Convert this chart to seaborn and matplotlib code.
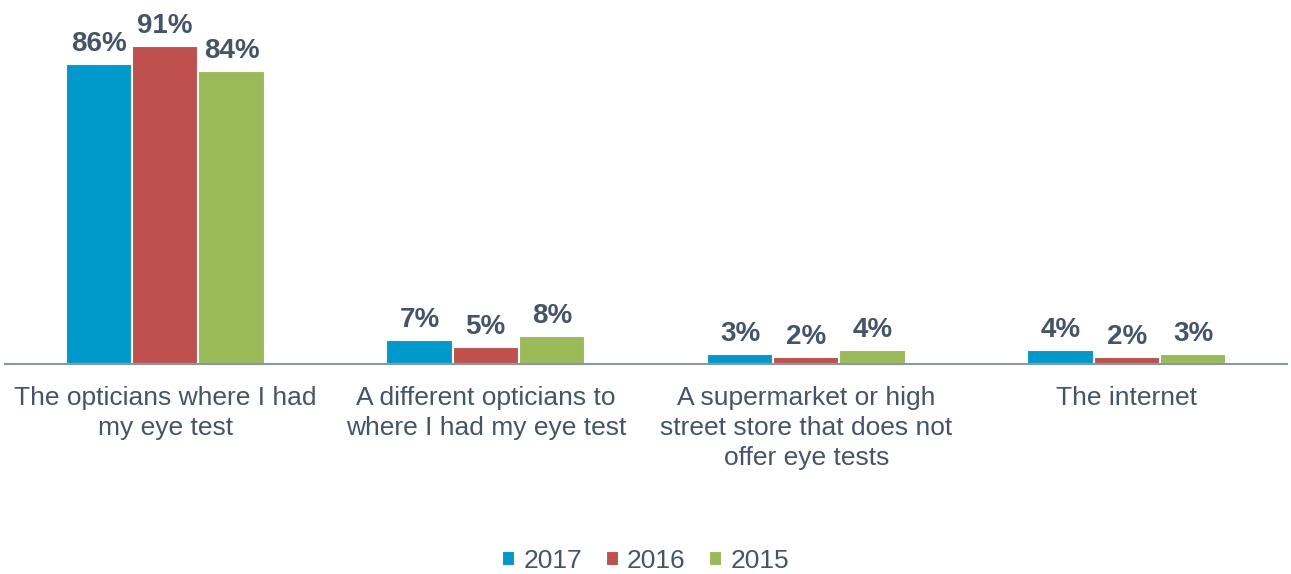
import pandas as pd
import matplotlib.pyplot as plt
import seaborn as sns

# Chart data
categories = ["The opticians where I had\nmy eye test",
              "A different opticians to\nwhere I had my eye test",
              "A supermarket or high\nstreet store that does not\noffer eye tests",
              "The internet"]
years = ["2017", "2016", "2015"]
values_2017 = [86, 7, 3, 4]
values_2016 = [91, 5, 2, 2]
values_2015 = [84, 8, 4, 3]
colors = ["#0099CC", "#C0504D", "#9BBB59"]
text_color = "#44546A"

df = pd.DataFrame({
    "category": categories * 3,
    "year": [y for y in years for _ in categories],
    "value": values_2017 + values_2016 + values_2015,
})

sns.set_style("white")
plt.rcParams["font.family"] = ["Liberation Sans", "DejaVu Sans"]

fig = plt.figure(figsize=(12.91, 5.74), dpi=100)
ax = fig.add_axes([5 / 1291, 1 - 364 / 574, 1282 / 1291, 349 / 574])

sns.barplot(data=df, x="category", y="value", hue="year", palette=colors,
            width=0.62, edgecolor="white", linewidth=1.5, saturation=1, ax=ax)

for container in ax.containers:
    ax.bar_label(container, fmt="%d%%", padding=5, fontsize=20,
                 fontweight="bold", color=text_color)

ax.set_ylim(0, 100)
ax.set_xlim(-0.5, 3.5)
ax.set_xlabel("")
ax.set_ylabel("")
ax.set_yticks([])
ax.tick_params(axis="x", length=0, pad=16, labelsize=19, labelcolor=text_color)
for lbl in ax.get_xticklabels():
    lbl.set_linespacing(1.3)
sns.despine(ax=ax, left=True)
ax.spines["bottom"].set_color("#8497B0")
ax.spines["bottom"].set_linewidth(1.5)

ax.legend(loc="center", bbox_to_anchor=(0.5, 1 - 561 / 574),
          bbox_transform=fig.transFigure, ncol=3, frameon=False,
          fontsize=19, labelcolor=text_color, handlelength=0.5,
          handleheight=0.5, handletextpad=0.3, columnspacing=0.9)

fig.savefig("out.png", dpi=100)
